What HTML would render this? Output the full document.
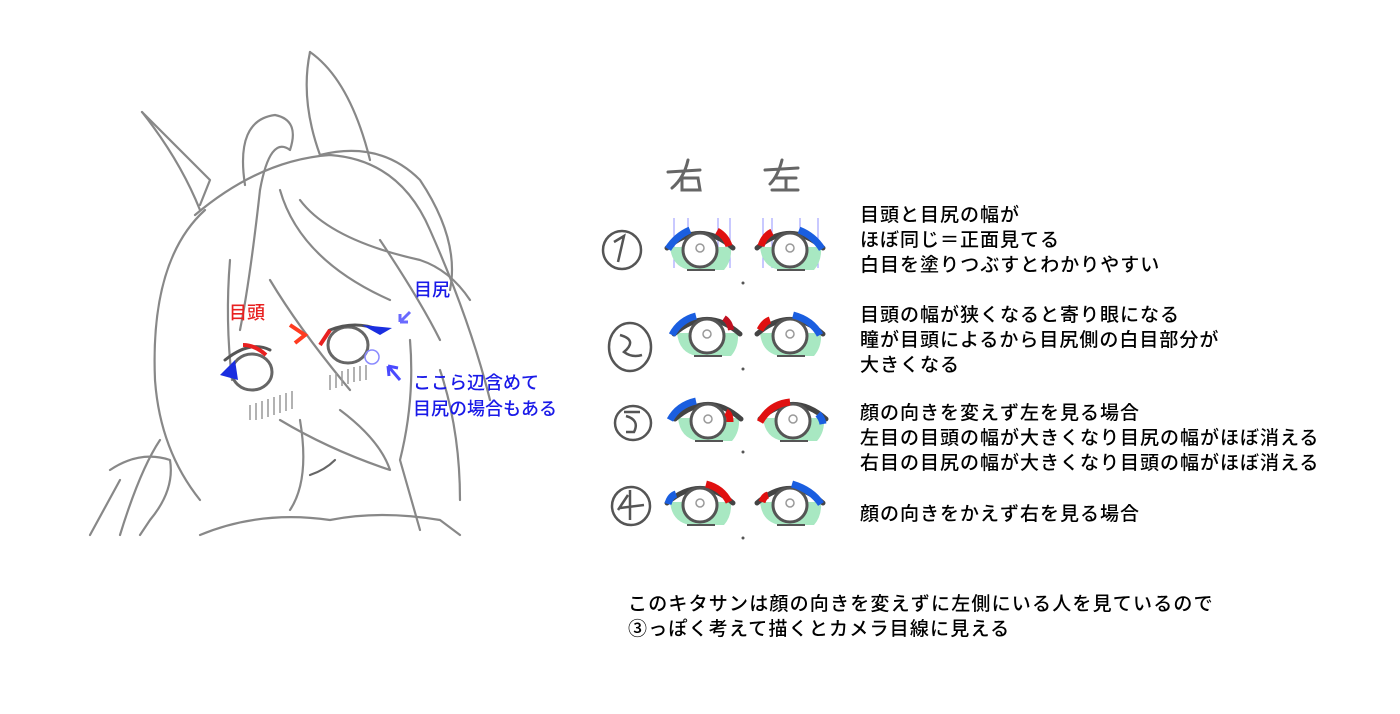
<!DOCTYPE html>
<html><head><meta charset="utf-8"><style>
html,body{margin:0;padding:0;background:#fff;}
body{width:1400px;height:714px;position:relative;overflow:hidden;font-family:"Liberation Sans","Noto Sans CJK JP",sans-serif;}
.t{position:absolute;font-size:19px;line-height:25px;color:#000;white-space:nowrap;letter-spacing:1px;font-weight:500;}
.b{position:absolute;font-size:19px;line-height:25px;color:#000;white-space:nowrap;letter-spacing:1.2px;font-weight:500;}
.lab{position:absolute;font-size:18px;line-height:26px;white-space:nowrap;font-weight:500;}
svg{position:absolute;left:0;top:0;}
</style></head><body>
<svg width="1400" height="714" viewBox="0 0 1400 714">
<defs>
<g id="eye">
<path d="M-30,0 Q-28,20 -10,23 L24,23 Q32,14 31,0 Z" fill="#a8e8c2"/>
<path d="M-33,1 Q0,-28 33,1" stroke="#444" stroke-width="5" fill="none" stroke-linecap="round"/>
<circle cx="0" cy="3" r="17" fill="#fff" stroke="#555" stroke-width="3"/>
<circle cx="0" cy="1" r="4" fill="none" stroke="#999" stroke-width="1.5"/>
<path d="M-13,23 L15,23" stroke="#555" stroke-width="2"/>
</g>
</defs>
<g fill="none" stroke="#888" stroke-width="2.2" stroke-linecap="round" stroke-linejoin="round">
<path d="M142,112 L210,180 L200,205"/><path d="M142,112 Q180,160 200,210"/>
<path d="M310,52 Q300,100 320,155"/><path d="M310,52 Q350,80 370,160"/>
<path d="M245,185 Q235,120 275,115 Q300,120 290,150 Q270,135 260,190"/>
<path d="M205,210 Q150,260 155,380 Q160,450 200,500"/>
<path d="M195,215 Q260,160 330,155 Q400,160 430,230 Q470,320 490,400"/>
<path d="M320,155 Q380,140 420,180 Q460,240 450,290"/>
<path d="M260,190 Q250,280 240,330"/>
<path d="M280,190 Q300,260 390,300"/>
<path d="M300,200 Q330,240 420,260 Q450,270 470,300"/>
<path d="M230,260 Q225,320 232,380"/>
<path d="M270,280 Q300,330 350,390"/>
<path d="M380,240 Q420,300 440,340"/>
<path d="M340,410 Q380,440 390,470 Q330,450 280,420"/>
<path d="M300,420 Q310,480 290,510"/>
<path d="M410,340 Q415,400 400,460 L420,530"/>
<path d="M440,370 Q460,430 460,500"/>
<path d="M110,470 Q140,450 170,460 Q175,490 150,520 L140,535"/>
<path d="M120,480 L90,535"/><path d="M160,440 Q140,470 120,535"/>
<path d="M200,535 Q260,510 330,520 Q380,510 440,520 L460,535"/>
<ellipse cx="252" cy="372" rx="20" ry="18" stroke="#666" stroke-width="3"/>
<ellipse cx="348" cy="345" rx="20" ry="18" stroke="#666" stroke-width="3"/>
<path d="M225,360 Q250,340 270,350" stroke="#555" stroke-width="3"/>
<path d="M330,330 Q355,320 380,330" stroke="#555" stroke-width="3"/>
<path d="M310,475 Q325,470 335,460" stroke="#666"/>
</g>
<g stroke="#999" stroke-width="1.5">
<path d="M250,405 v15 M256,403 v17 M262,401 v18 M268,399 v18 M274,397 v18 M280,395 v18 M286,393 v18 M292,391 v18 M330,375 v15 M336,373 v15 M342,371 v15 M348,369 v15 M354,367 v15 M360,366 v15 M366,365 v15"/>
</g>
<path d="M243,345 Q255,345 266,355" stroke="#e82020" stroke-width="4" fill="none"/>
<path d="M330,330 L320,345" stroke="#e82020" stroke-width="4" fill="none"/>
<path d="M290,325 L305,335 L295,343" stroke="#ff3b20" stroke-width="4" fill="none"/>
<path d="M220,375 Q230,365 235,360 L238,380 Z" fill="#1a2ee0"/>
<path d="M362,325 L392,328 L380,335 Z" fill="#1a2ee0"/>
<path d="M410,312 L400,322 M400,322 L408,322 M400,322 L400,314" stroke="#6a6aff" stroke-width="3" fill="none"/>
<path d="M400,380 L388,366 M388,366 L398,368 M388,366 L389,376" stroke="#4a4aff" stroke-width="3" fill="none"/>
<circle cx="372" cy="357" r="7" fill="none" stroke="#8a8aff" stroke-width="1.5"/>
<g stroke="#666" stroke-width="3" fill="none" stroke-linecap="round">
<path d="M668,172 L700,170 M688,160 Q684,178 672,188 M682,178 L698,178 L700,190 L682,190 Z"/>
<path d="M765,170 L798,168 M782,160 Q778,176 770,184 M776,178 L796,178 M786,178 L786,190 M772,190 L798,190"/>
</g>
<g stroke="#555" stroke-width="2.5" fill="none">
<circle cx="622" cy="250" r="19"/><path d="M614,242 L624,236 L618,262"/>
<ellipse cx="630" cy="347" rx="21" ry="24"/><path d="M620,335 Q638,340 624,352 Q632,358 642,355"/>
<ellipse cx="633" cy="423" rx="18" ry="17"/><path d="M624,412 L640,412 M626,416 Q640,420 634,432 L626,432"/>
<circle cx="631" cy="506" r="19"/><path d="M630,490 L630,520 M620,508 L644,505 M628,495 L618,510"/>
</g>
<g stroke-width="1.2" opacity="0.7">
<path d="M674,218 v50 M688,218 v50 M718,218 v50 M730,218 v50 M763,218 v50 M772,218 v50 M800,218 v50 M818,218 v50" stroke="#8080ff"/>
</g>
<use href="#eye" x="700" y="247"/>
<use href="#eye" x="790" y="247"/>
<path d="M668,249 Q676,236 690,230" stroke="#1a5ee0" stroke-width="7" fill="none"/>
<path d="M717,231 Q726,236 729,246" stroke="#e01010" stroke-width="7" fill="none"/>
<path d="M761,246 Q764,236 772,232" stroke="#e01010" stroke-width="7" fill="none"/>
<path d="M799,230 Q814,236 822,249" stroke="#1a5ee0" stroke-width="7" fill="none"/>
<use href="#eye" x="707" y="333"/>
<use href="#eye" x="790" y="333"/>
<path d="M672,335 Q680,320 696,316" stroke="#1a5ee0" stroke-width="7" fill="none"/>
<path d="M724,318 Q730,322 731,330" stroke="#c01020" stroke-width="6" fill="none"/>
<path d="M760,330 Q764,322 770,320" stroke="#e01010" stroke-width="7" fill="none"/>
<path d="M793,315 Q812,320 820,335" stroke="#1a5ee0" stroke-width="7" fill="none"/>
<use href="#eye" x="708" y="418"/>
<use href="#eye" x="793" y="418"/>
<path d="M670,420 Q678,405 696,401" stroke="#1a5ee0" stroke-width="7" fill="none"/>
<path d="M726,412 Q730,414 730,422" stroke="#e01010" stroke-width="7" fill="none"/>
<path d="M760,422 Q770,404 790,402" stroke="#e01010" stroke-width="7" fill="none"/>
<path d="M818,414 Q822,418 823,424" stroke="#1a5ee0" stroke-width="7" fill="none"/>
<use href="#eye" x="700" y="502"/>
<use href="#eye" x="790" y="502"/>
<path d="M668,504 Q670,496 676,494" stroke="#1a5ee0" stroke-width="7" fill="none"/>
<path d="M706,484 Q722,488 729,502" stroke="#e01010" stroke-width="7" fill="none"/>
<path d="M762,502 Q764,496 768,495" stroke="#e01010" stroke-width="7" fill="none"/>
<path d="M792,484 Q812,490 821,504" stroke="#1a5ee0" stroke-width="7" fill="none"/>
<g fill="#555"><circle cx="743" cy="283" r="1.5"/><circle cx="743" cy="369" r="1.5"/><circle cx="743" cy="452" r="1.5"/><circle cx="743" cy="538" r="1.5"/></g>
</svg>

<div class="lab" style="left:229px;top:300px;color:#e82020;">目頭</div>
<div class="lab" style="left:414px;top:277px;color:#1a1ae8;">目尻</div>
<div class="lab" style="left:413px;top:370px;color:#1a1ae8;">ここら辺含めて<br>目尻の場合もある</div>

<div class="t" style="left:860px;top:203px;">目頭と目尻の幅が<br>ほぼ同じ＝正面見てる<br>白目を塗りつぶすとわかりやすい</div>
<div class="t" style="left:860px;top:303px;">目頭の幅が狭くなると寄り眼になる<br>瞳が目頭によるから目尻側の白目部分が<br>大きくなる</div>
<div class="t" style="left:860px;top:401px;">顔の向きを変えず左を見る場合<br>左目の目頭の幅が大きくなり目尻の幅がほぼ消える<br>右目の目尻の幅が大きくなり目頭の幅がほぼ消える</div>
<div class="t" style="left:860px;top:502px;">顔の向きをかえず右を見る場合</div>
<div class="b" style="left:628px;top:592px;">このキタサンは顔の向きを変えずに左側にいる人を見ているので<br>③っぽく考えて描くとカメラ目線に見える</div>
</body></html>
